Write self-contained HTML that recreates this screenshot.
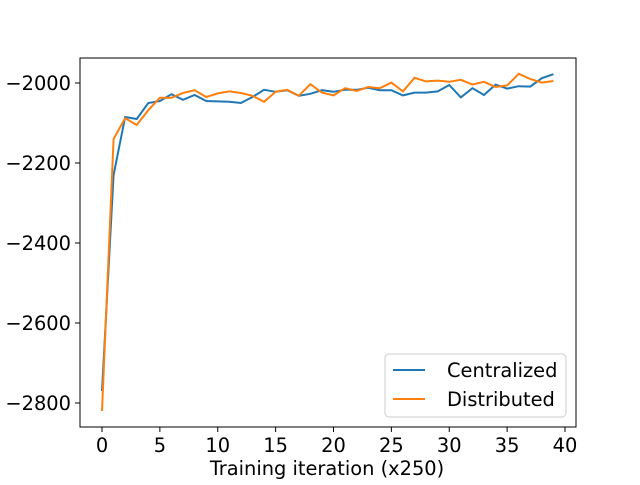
<!DOCTYPE html>
<html><head><meta charset="utf-8"><style>
body{margin:0;background:#fff;}
svg text{font-family:"DejaVu Sans","Liberation Sans",sans-serif;font-size:19.4px;fill:#000;}
</style></head><body>
<svg width="640" height="480" xmlns="http://www.w3.org/2000/svg">
<rect x="0" y="0" width="640" height="480" fill="#fff"/>
<g id="plot"></g>
</svg>
<script>
const centralized=[-2770,-2230,-2085,-2090,-2050,-2045,-2028,-2042,-2030,-2045,-2046,-2047,-2050,-2035,-2017,-2022,-2018,-2032,-2027,-2018,-2022,-2017,-2017,-2012,-2018,-2018,-2031,-2024,-2024,-2021,-2005,-2036,-2013,-2030,-2004,-2014,-2008,-2009,-1988,-1978];
const distributed=[-2820,-2140,-2088,-2105,-2068,-2037,-2037,-2025,-2018,-2035,-2026,-2021,-2025,-2032,-2047,-2022,-2017,-2032,-2003,-2024,-2031,-2013,-2020,-2010,-2013,-1999,-2021,-1987,-1996,-1994,-1997,-1992,-2004,-1997,-2010,-2006,-1977,-1990,-1999,-1995];
const xTicks=[0,5,10,15,20,25,30,35,40];
const yTicks=[-2000,-2200,-2400,-2600,-2800];
const L=80,R=576,T=58,B=427;
const xs=v=>102+v*(565-102)/40;
const ys=v=>83+(-2000-v)*(403-83)/800;
const NS='http://www.w3.org/2000/svg';
const g=document.getElementById('plot');
function mk(t,a){const e=document.createElementNS(NS,t);for(const k in a)e.setAttribute(k,a[k]);g.appendChild(e);return e;}
function series(d,c,name){
  const p=mk('polyline',{points:d.map((v,i)=>xs(i)+','+ys(v)).join(' '),fill:'none',stroke:c,'stroke-width':2});
  
  
}
series(centralized,'#1f77b4','centralized-line');
series(distributed,'#ff7f0e','distributed-line');
const frame=mk('rect',{x:L,y:T,width:R-L,height:B-T,fill:'none',stroke:'#000','stroke-width':1});


xTicks.forEach(t=>{
  const x=xs(t);
  const l=mk('line',{x1:x,x2:x,y1:B,y2:B+5,stroke:'#000'});
  
  
  const tx=mk('text',{x:x,y:B+25,'text-anchor':'middle'});tx.textContent=t;
  
  
});
yTicks.forEach(t=>{
  const y=ys(t);
  const l=mk('line',{x1:L-5,x2:L,y1:y,y2:y,stroke:'#000'});
  
  
  const tx=mk('text',{x:L-9,y:y+7,'text-anchor':'end'});tx.textContent='\u2212'+Math.abs(t);
  
  
});
const xt=mk('text',{x:(L+R)/2-1,y:475,'text-anchor':'middle'});xt.textContent='Training iteration (x250)';


const lg=mk('rect',{x:385,y:354,width:181,height:63,rx:4,fill:'#fff',stroke:'#ccc','fill-opacity':0.8});


[['Centralized','#1f77b4',370],['Distributed','#ff7f0e',399]].forEach(([n,c,y])=>{
  const l=mk('line',{x1:393,x2:425,y1:y,y2:y,stroke:c,'stroke-width':2});
  
  
  const t=mk('text',{x:447,y:y+7});t.textContent=n;
  
  
});
</script>
</body></html>
